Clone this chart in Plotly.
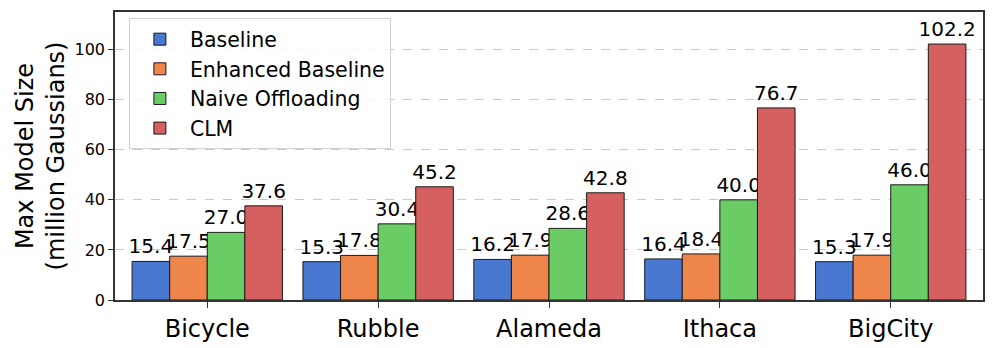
import plotly.graph_objects as go

# Data
scenes = ['Bicycle', 'Rubble', 'Alameda', 'Ithaca', 'BigCity']
baseline = [15.4, 15.3, 16.2, 16.4, 15.3]
enhanced_baseline = [17.5, 17.8, 17.9, 18.4, 17.9]
naive_offloading = [27.0, 30.4, 28.6, 40.0, 46.0]
clm = [37.6, 45.2, 42.8, 76.7, 102.2]

series = [
    ('Baseline', baseline, '#4878d0'),
    ('Enhanced Baseline', enhanced_baseline, '#ee854a'),
    ('Naive Offloading', naive_offloading, '#6acc64'),
    ('CLM', clm, '#d65f5f'),
]

fig = go.Figure()
for name, vals, color in series:
    fig.add_trace(go.Bar(
        name=name,
        x=scenes,
        y=vals,
        text=[f'{v:.1f}' for v in vals],
        textposition='outside',
        constraintext='none',
        cliponaxis=False,
        textfont=dict(size=20, color='black'),
        marker=dict(color=color, line=dict(color='#1a1a1a', width=1)),
    ))

# page body has an 8px margin, so the figure is 8px smaller and shifted
fig.update_layout(
    width=988,
    height=340,
    margin=dict(l=107, r=13, t=4, b=48),
    font=dict(family='DejaVu Sans', color='black'),
    barmode='group',
    bargap=0.12,
    bargroupgap=0,
    plot_bgcolor='white',
    paper_bgcolor='white',
    legend=dict(
        x=0.016, y=0.978, xanchor='left', yanchor='top',
        font=dict(size=20.5),
        bgcolor='rgba(255,255,255,0.85)',
        bordercolor='#d0d0d0', borderwidth=1,
        itemwidth=50,
    ),
    xaxis=dict(
        tickfont=dict(size=24),
        showline=True, linecolor='#333333', linewidth=1.5, mirror=True,
        ticks='outside', ticklen=6, tickcolor='#333333',
        range=[-0.54, 4.54],
        automargin=False,
    ),
    yaxis=dict(
        title=dict(text='Max Model Size<br>(million Gaussians)', font=dict(size=24), standoff=3),
        tickfont=dict(size=16),
        range=[0, 115],
        tickvals=[0, 20, 40, 60, 80, 100],
        showline=True, linecolor='#333333', linewidth=1.5, mirror=True,
        ticks='outside', ticklen=5, tickcolor='#333333',
        showgrid=True, gridcolor='#c8c8c8', griddash='dash', gridwidth=1,
        zeroline=False,
        automargin=False,
    ),
)

fig.write_html('out.html')
